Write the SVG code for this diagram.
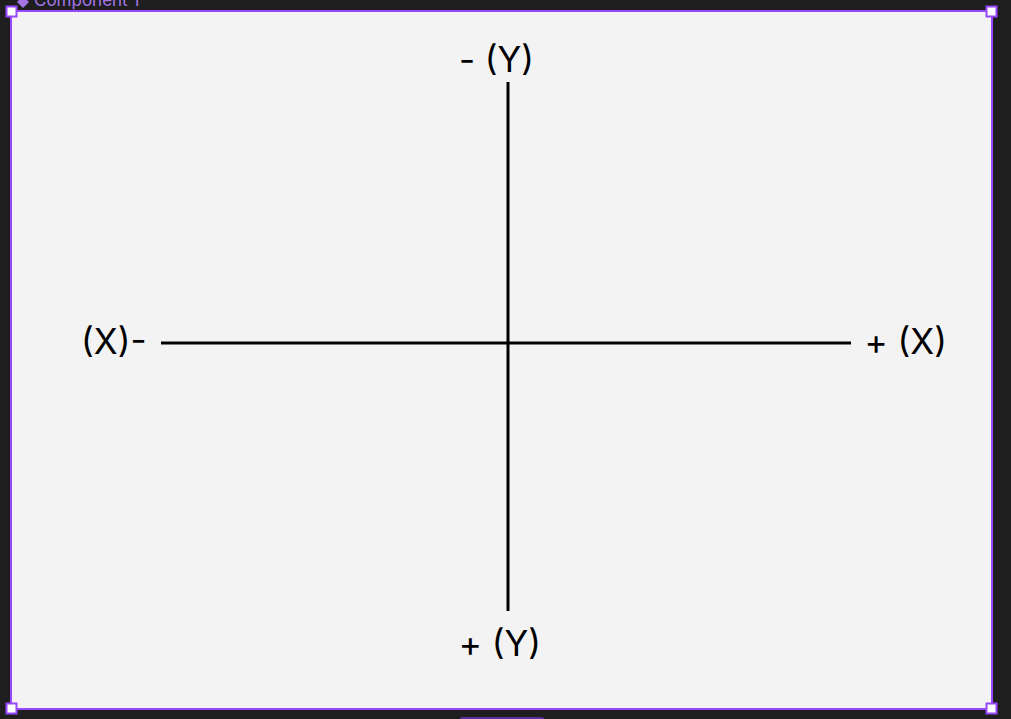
<svg xmlns="http://www.w3.org/2000/svg" width="1011" height="719" viewBox="0 0 1011 719">
<style>
.lbl{font-family:Inter,"Noto Sans","Liberation Sans",sans-serif;font-size:35px;fill:#000}
.axis{stroke:#000;stroke-width:3;fill:none}
.h{fill:#fff;stroke:#9747FF;stroke-width:2}
</style>
<rect x="0" y="0" width="1011" height="719" fill="#1e1e1e"/>
<g id="frame-label">
<path d="M23 -4 L29 2 L23 8 L17 2 Z" fill="#a575e8"/>
<text x="34" y="6" font-family="Inter,'Liberation Sans',sans-serif" font-size="17" fill="#a575e8">Component 1</text>
</g>
<g id="frame">
<rect x="11" y="11" width="981" height="698" fill="#f3f3f3" stroke="#9747FF" stroke-width="2"/>
</g>
<g id="connectors">
<line class="axis" x1="508" y1="82" x2="508" y2="611"/>
<line class="axis" x1="161" y1="343" x2="851" y2="343"/>
</g>
<g id="label-top"><text class="lbl" x="496.5" y="72" text-anchor="middle">- (Y)</text></g>
<g id="label-bottom"><text class="lbl" x="500" y="656" text-anchor="middle">+ (Y)</text></g>
<g id="label-left"><text class="lbl" x="81" y="354">(X)-</text></g>
<g id="label-right"><text class="lbl" x="947" y="354" text-anchor="end">+ (X)</text></g>
<g id="handles">
<rect class="h" x="6.5" y="6.5" width="10" height="10"/>
<rect class="h" x="986.5" y="6.5" width="10" height="10"/>
<rect class="h" x="6.5" y="703.5" width="10" height="10"/>
<rect class="h" x="986.5" y="703.5" width="10" height="10"/>
</g>
<rect x="460" y="717" width="84" height="6" rx="2" fill="#5a2e9a"/>
</svg>
